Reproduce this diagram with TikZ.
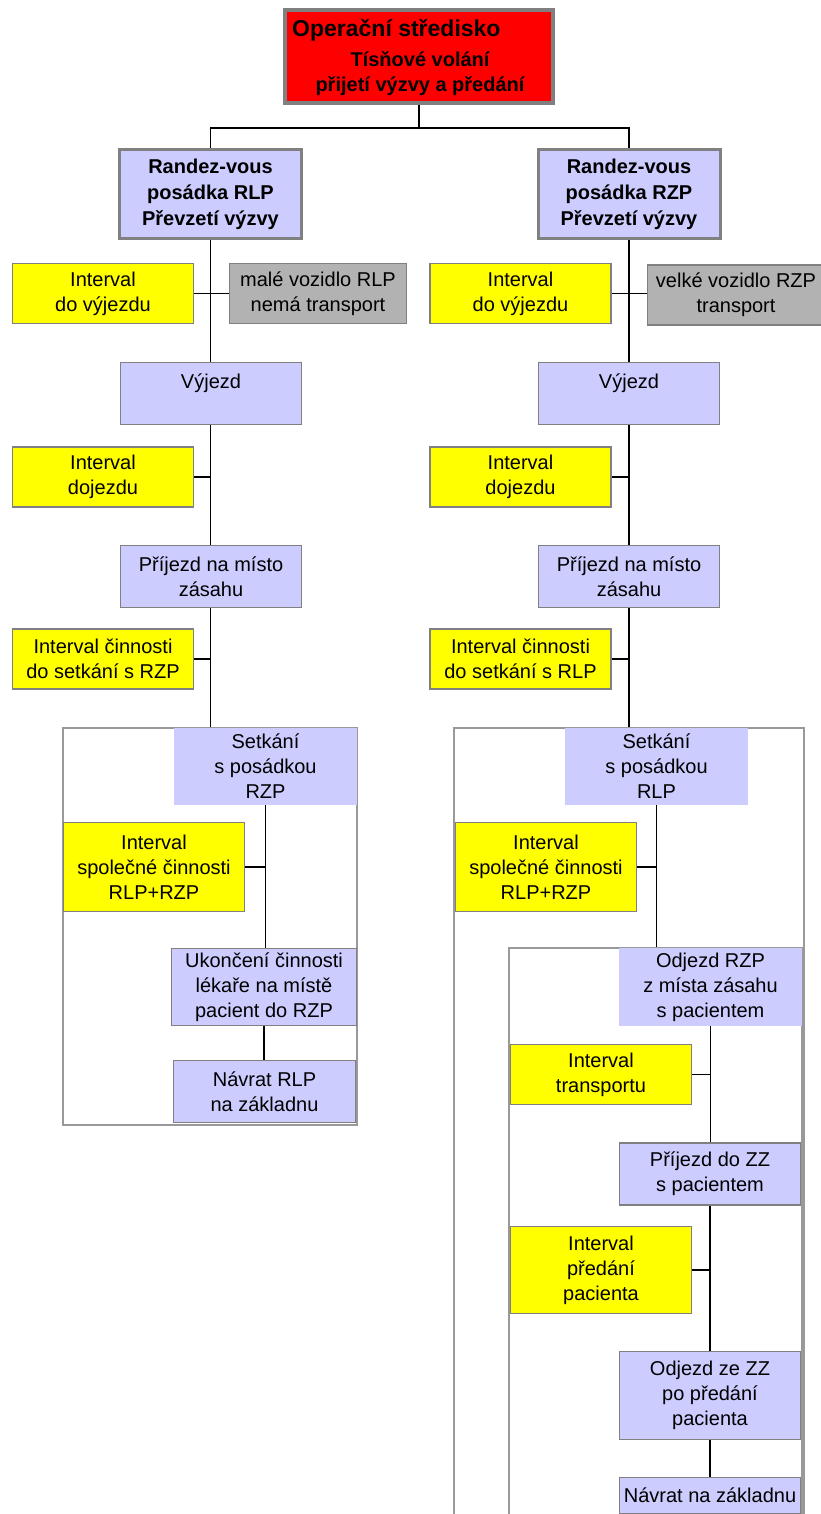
\documentclass[tikz,border=0pt]{standalone}
\usepackage{fontspec}
\setmainfont{Liberation Sans}
\usetikzlibrary{positioning, backgrounds}
\definecolor{fialova}{HTML}{CCCCFF}
\definecolor{seda}{HTML}{808080}
\definecolor{sedabox}{HTML}{B2B2B2}
\definecolor{zluta}{HTML}{FFFF00}

\begin{document}
\begin{tikzpicture}[x=1pt, y=-1pt,
    every node/.style={font=\fontsize{20}{25}\selectfont, align=center, inner sep=0pt},
    stredisko/.style={draw=seda, line width=4pt, fill=red, minimum width=268pt, minimum height=93pt},
    posadka/.style={draw=seda, line width=3pt, fill=fialova, minimum width=182pt, minimum height=89pt, font=\fontsize{20}{26}\selectfont\bfseries},
    interval/.style={draw=seda, line width=1.5pt, fill=zluta, minimum width=181pt, minimum height=60pt},
    vozidlo/.style={draw=seda, line width=1.5pt, fill=sedabox, minimum width=177pt, minimum height=60pt},
    krok/.style={draw=seda, line width=1.5pt, fill=fialova, minimum width=181pt, minimum height=62pt},
    setkani/.style={fill=fialova, minimum width=183pt, minimum height=77pt},
    ramec/.style={draw=seda!80, line width=1.5pt},
    spoj/.style={draw=black, line width=1.3pt}
]
    \useasboundingbox (0,0) rectangle (821,1514);
    \clip (0,0) rectangle (821,1514);

    % ramce
    \node (ramecL) [ramec, minimum width=294pt, minimum height=397pt] at (210,926.5) {};
    \node (ramecR) [ramec, minimum width=350pt, minimum height=802pt] at (629,1129) {};
    \node (ramecR2) [ramec, minimum width=293pt, minimum height=582pt] at (655.5,1239) {};

    % operacni stredisko
    \node (os) [stredisko] at (419,56.5) {};
    \node (osNazev) [anchor=base west, font=\fontsize{23}{28}\selectfont\bfseries] at (292,37) {Operační středisko};
    \node (osText) [font=\fontsize{20}{25}\selectfont\bfseries] at (420,74) {Tísňové volání\\přijetí výzvy a předání};

    % levy sloupec - RLP
    \node (rlp) [posadka] at (210.5,194) {Randez-vous\\posádka RLP\\Převzetí výzvy};
    \node (intL1) [interval] at (103,293.5) {Interval\\do výjezdu};
    \node (vozL) [vozidlo] at (318,293.5) {malé vozidlo RLP\\nemá transport};
    \node (vyjL) [krok] at (211,393.5) {Výjezd\\\mbox{}};
    \node (intL2) [interval] at (103,477) {Interval\\dojezdu};
    \node (prijL) [krok] at (211,576.5) {Příjezd na místo\\zásahu};
    \node (intL3) [interval] at (103,659) {Interval činnosti\\do setkání s RZP};
    \node (setL) [setkani] at (265.5,766.5) {Setkání\\s posádkou\\RZP};
    \node (intL4) [interval, minimum height=89pt] at (154,867) {Interval\\společné činnosti\\RLP+RZP};
    \node (ukonL) [krok, minimum width=185pt, minimum height=77pt] at (264,987) {Ukončení činnosti\\lékaře na místě\\pacient do RZP};
    \node (navL) [krok, minimum width=182pt] at (264.5,1091.5) {Návrat RLP\\na základnu};

    % pravy sloupec - RZP
    \node (rzp) [posadka] at (629,194) {Randez-vous\\posádka RZP\\Převzetí výzvy};
    \node (intR1) [interval] at (520.5,293.5) {Interval\\do výjezdu};
    \node (vozR) [vozidlo] at (736,295) {velké vozidlo RZP\\transport};
    \node (vyjR) [krok] at (629,393.5) {Výjezd\\\mbox{}};
    \node (intR2) [interval] at (520.5,477) {Interval\\dojezdu};
    \node (prijR) [krok] at (629,576.5) {Příjezd na místo\\zásahu};
    \node (intR3) [interval] at (520.5,659) {Interval činnosti\\do setkání s RLP};
    \node (setR) [setkani] at (656.5,766.5) {Setkání\\s posádkou\\RLP};
    \node (intR4) [interval, minimum height=89pt] at (546,867) {Interval\\společné činnosti\\RLP+RZP};
    \node (odjR) [setkani, minimum height=78pt] at (710.5,987) {Odjezd RZP\\z místa zásahu\\s pacientem};
    \node (intR5) [interval] at (601,1074.5) {Interval\\transportu};
    \node (prijZZ) [krok] at (710,1174) {Příjezd do ZZ\\s pacientem};
    \node (intR6) [interval, minimum height=87pt] at (601,1270) {Interval\\předání\\pacienta};
    \node (odjZZ) [krok, minimum height=88pt] at (710,1395.5) {Odjezd ze ZZ\\po předání\\pacienta};
    \node (navR) [krok, minimum height=36pt] at (710,1495.5) {Návrat na základnu};

    % spoje (za boxy)
    \begin{scope}[on background layer]
    \coordinate (rozv) at (419,128);
    \draw[spoj] (os.south) -- (rozv);
    \draw[spoj] (rlp.north) |- (rozv) -| (rzp.north);

    \draw[spoj] (rlp.south) -- (rlp.south |- ramecL.north);
    \draw[spoj] (intL1.east) -- (vozL.west);
    \draw[spoj] (intL2.east) -- (intL2.east -| rlp.south);
    \draw[spoj] (intL3.east) -- (intL3.east -| rlp.south);
    \draw[spoj] (setL.south) -- (setL.south |- ukonL.north);
    \draw[spoj] (intL4.east) -- (intL4.east -| setL.south);
    \draw[spoj] (ukonL.south) -- (ukonL.south |- navL.north);

    \draw[spoj] (rzp.south) -- (rzp.south |- ramecR.north);
    \draw[spoj] (intR1.east) -- (intR1.east -| vozR.west);
    \draw[spoj] (intR2.east) -- (intR2.east -| rzp.south);
    \draw[spoj] (intR3.east) -- (intR3.east -| rzp.south);
    \draw[spoj] (setR.south) -- (setR.south |- ramecR2.north);
    \draw[spoj] (intR4.east) -- (intR4.east -| setR.south);
    \draw[spoj] (odjR.south) -- (odjR.south |- prijZZ.north);
    \draw[spoj] (intR5.east) -- (intR5.east -| odjR.south);
    \draw[spoj] (prijZZ.south) -- (odjZZ.north);
    \draw[spoj] (intR6.east) -- (intR6.east -| prijZZ.south);
    \draw[spoj] (odjZZ.south) -- (navR.north);
    \end{scope}
\end{tikzpicture}
\end{document}
